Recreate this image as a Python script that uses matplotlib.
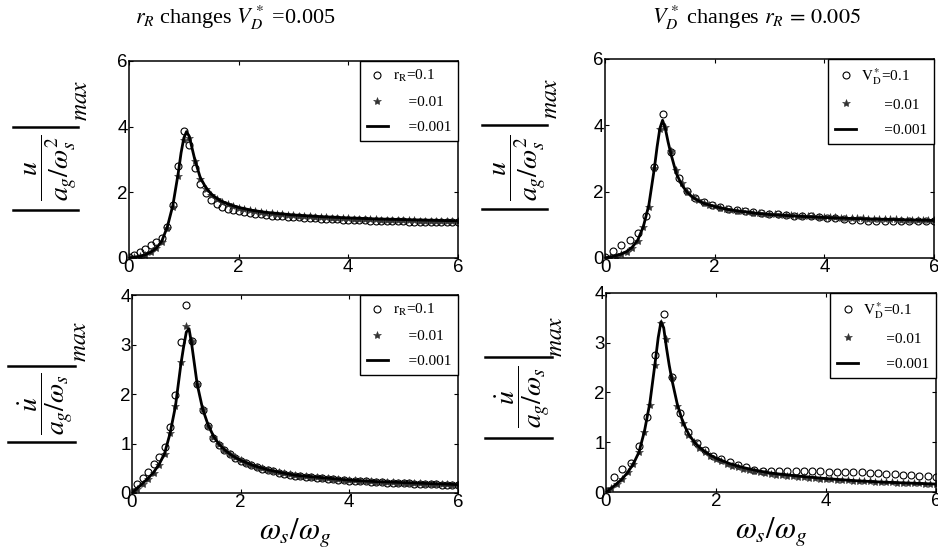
import numpy as np
import matplotlib
matplotlib.use("Agg")
import matplotlib.pyplot as plt

plt.rcParams['mathtext.fontset'] = 'stix'
plt.rcParams['font.family'] = ['Liberation Sans', 'DejaVu Sans']

# frequency ratio grids (omega_s / omega_g)
x_fine = np.round(np.arange(0, 6.001, 0.1), 2)     # 61 samples, r_R/V_D* = 0.01 and left circles
x_coarse = np.round(np.arange(0, 6.001, 0.15), 2)  # 41 samples, right-hand circles
x_line = [0, 0.1, 0.2, 0.3, 0.4, 0.5, 0.6, 0.7, 0.8, 0.9, 0.95, 1.0, 1.05, 1.1, 1.15,
          1.2, 1.3, 1.4, 1.5, 1.6, 1.7, 1.8, 1.9, 2.0, 2.25, 2.5, 2.75, 3.0, 3.5,
          4.0, 4.5, 5.0, 5.5, 6.0]

# ---- top left: |u / (a_g/w_s^2)|max, r_R changes ----
u_rR_01 = [0.02, 0.10, 0.17, 0.28, 0.38, 0.50, 0.62, 0.95, 1.62, 2.80,
           3.88, 3.45, 2.75, 2.25, 1.97, 1.78, 1.65, 1.55, 1.50, 1.45,
           1.42, 1.39, 1.37, 1.35, 1.33, 1.31, 1.29, 1.28, 1.27, 1.26,
           1.25, 1.24, 1.23, 1.22, 1.21, 1.20, 1.19, 1.18, 1.18, 1.17,
           1.16, 1.16, 1.15, 1.15, 1.14, 1.14, 1.13, 1.13, 1.12, 1.12,
           1.12, 1.11, 1.11, 1.11, 1.10, 1.10, 1.10, 1.10, 1.09, 1.09, 1.09]
u_rR_001 = [0.00, 0.02, 0.05, 0.10, 0.17, 0.30, 0.50, 0.92, 1.55, 2.50,
            3.60, 3.65, 2.95, 2.40, 2.10, 1.92, 1.80, 1.70, 1.63, 1.58,
            1.53, 1.50, 1.46, 1.43, 1.41, 1.38, 1.36, 1.35, 1.33, 1.31,
            1.30, 1.29, 1.28, 1.27, 1.26, 1.25, 1.24, 1.23, 1.22, 1.22,
            1.21, 1.20, 1.19, 1.19, 1.18, 1.18, 1.17, 1.17, 1.16, 1.16,
            1.15, 1.15, 1.15, 1.14, 1.14, 1.14, 1.13, 1.13, 1.13, 1.12, 1.12]
u_rR_0001 = [0, 0.02, 0.05, 0.10, 0.18, 0.30, 0.52, 0.95, 1.60, 2.60, 3.20, 3.65,
             3.85, 3.70, 3.35, 3.00, 2.45, 2.15, 1.95, 1.82, 1.72, 1.65, 1.59,
             1.54, 1.45, 1.39, 1.35, 1.31, 1.26, 1.22, 1.19, 1.17, 1.15, 1.13]

# ---- top right: |u / (a_g/w_s^2)|max, V_D* changes ----
u_VD_01 = [0.02, 0.20, 0.38, 0.55, 0.74, 1.28, 2.75, 4.35, 3.20, 2.40,
           2.02, 1.82, 1.68, 1.60, 1.53, 1.48, 1.44, 1.41, 1.38, 1.36,
           1.34, 1.32, 1.30, 1.28, 1.27, 1.25, 1.23, 1.21, 1.19, 1.17,
           1.15, 1.14, 1.12, 1.11, 1.10, 1.10, 1.11, 1.11, 1.12, 1.12, 1.12]
u_VD_001 = [0.00, 0.03, 0.06, 0.11, 0.18, 0.31, 0.52, 0.92, 1.55, 2.70,
            3.90, 3.95, 3.22, 2.65, 2.25, 2.00, 1.85, 1.75, 1.67, 1.61,
            1.56, 1.52, 1.48, 1.45, 1.43, 1.41, 1.39, 1.37, 1.36, 1.34,
            1.33, 1.32, 1.31, 1.30, 1.29, 1.28, 1.27, 1.26, 1.25, 1.24,
            1.23, 1.22, 1.22, 1.21, 1.20, 1.20, 1.19, 1.19, 1.18, 1.18,
            1.17, 1.17, 1.16, 1.16, 1.15, 1.15, 1.15, 1.14, 1.14, 1.13, 1.13]
u_VD_0001 = [0, 0.03, 0.07, 0.12, 0.20, 0.33, 0.55, 0.95, 1.60, 2.70, 3.35, 3.90,
             4.15, 3.90, 3.50, 3.15, 2.55, 2.20, 1.98, 1.83, 1.73, 1.65, 1.60,
             1.55, 1.46, 1.40, 1.35, 1.31, 1.26, 1.22, 1.19, 1.17, 1.15, 1.13]

# ---- bottom left: |u_dot / (a_g/w_s)|max, r_R changes ----
v_rR_01 = [0.02, 0.19, 0.30, 0.42, 0.58, 0.73, 0.92, 1.33, 1.97, 3.05,
           3.80, 3.07, 2.20, 1.68, 1.35, 1.12, 0.97, 0.86, 0.78, 0.71,
           0.65, 0.60, 0.56, 0.52, 0.49, 0.46, 0.44, 0.41, 0.39, 0.37,
           0.35, 0.34, 0.33, 0.32, 0.31, 0.30, 0.29, 0.28, 0.27, 0.26,
           0.25, 0.25, 0.24, 0.24, 0.23, 0.22, 0.22, 0.21, 0.21, 0.20,
           0.20, 0.20, 0.19, 0.19, 0.18, 0.18, 0.18, 0.17, 0.17, 0.17, 0.16]
v_rR_001 = [0.00, 0.08, 0.18, 0.28, 0.40, 0.56, 0.78, 1.22, 1.76, 2.64,
            3.37, 3.08, 2.20, 1.70, 1.36, 1.14, 0.98, 0.87, 0.79, 0.72,
            0.66, 0.61, 0.57, 0.53, 0.50, 0.47, 0.45, 0.42, 0.40, 0.38,
            0.36, 0.35, 0.34, 0.33, 0.32, 0.31, 0.30, 0.29, 0.28, 0.27,
            0.26, 0.26, 0.25, 0.25, 0.24, 0.23, 0.23, 0.22, 0.22, 0.21,
            0.21, 0.20, 0.20, 0.20, 0.19, 0.19, 0.18, 0.18, 0.18, 0.17, 0.17]
v_rR_0001 = [0, 0.10, 0.20, 0.30, 0.42, 0.58, 0.80, 1.20, 1.75, 2.60, 2.95, 3.25,
             3.32, 3.00, 2.60, 2.20, 1.70, 1.38, 1.15, 0.99, 0.88, 0.79, 0.72,
             0.66, 0.55, 0.47, 0.41, 0.36, 0.31, 0.26, 0.23, 0.21, 0.19, 0.17]

# ---- bottom right: |u_dot / (a_g/w_s)|max, V_D* changes ----
v_VD_01 = [0.02, 0.31, 0.46, 0.59, 0.92, 1.51, 2.75, 3.58, 2.32, 1.58,
           1.21, 0.99, 0.85, 0.73, 0.66, 0.60, 0.55, 0.50, 0.45, 0.43,
           0.42, 0.42, 0.42, 0.42, 0.42, 0.42, 0.42, 0.41, 0.41, 0.41,
           0.40, 0.40, 0.39, 0.38, 0.37, 0.36, 0.35, 0.34, 0.33, 0.32, 0.31]
v_VD_001 = [0.00, 0.08, 0.17, 0.27, 0.40, 0.56, 0.80, 1.20, 1.75, 2.55,
            3.39, 3.07, 2.30, 1.72, 1.38, 1.15, 1.00, 0.88, 0.80, 0.73,
            0.67, 0.62, 0.57, 0.53, 0.50, 0.47, 0.44, 0.42, 0.40, 0.38,
            0.36, 0.35, 0.34, 0.33, 0.32, 0.31, 0.30, 0.29, 0.28, 0.27,
            0.26, 0.26, 0.25, 0.24, 0.24, 0.23, 0.23, 0.22, 0.22, 0.21,
            0.21, 0.20, 0.20, 0.19, 0.19, 0.18, 0.18, 0.18, 0.17, 0.17, 0.16]
v_VD_0001 = [0, 0.08, 0.17, 0.27, 0.40, 0.57, 0.80, 1.22, 1.80, 2.65, 3.10, 3.42,
             3.30, 2.90, 2.55, 2.25, 1.75, 1.40, 1.17, 1.01, 0.90, 0.81, 0.74,
             0.68, 0.57, 0.49, 0.43, 0.38, 0.32, 0.27, 0.23, 0.20, 0.18, 0.16]

lab_rR = [r'$\mathrm{r}_\mathrm{R}$=0.1', '    =0.01', '    =0.001']
lab_VD = [r'$\mathrm{V}^*_\mathrm{D}$=0.1', '      =0.01', '      =0.001']

ylab_u = r'$\dfrac{u}{a_g/\omega_s^2}$'
ylab_v = r'$\dfrac{\dot{u}}{a_g/\omega_s}$'

fig = plt.figure(figsize=(9.38, 5.53), dpi=100)

# rect, circle x, circle y, star y, line y, labels, ymax, ylabel,
# label pos, "max" pos, abs-bar x-span and y of the two bars (axes fraction)
panels = [
    ([0.1375, 0.5335, 0.3507, 0.3562], x_fine, u_rR_01, u_rR_001, u_rR_0001, lab_rR, 6, ylab_u,
     (-0.155, 0.457), (-0.145, 0.80), (-0.353, -0.155), (0.246, 0.665)),
    ([0.645, 0.5335, 0.3507, 0.3600], x_coarse, u_VD_01, u_VD_001, u_VD_0001, lab_VD, 6, ylab_u,
     (-0.176, 0.452), (-0.164, 0.804), (-0.374, -0.176), (0.246, 0.666)),
    ([0.1407, 0.1085, 0.3475, 0.3580], x_fine, v_rR_01, v_rR_001, v_rR_0001, lab_rR, 4, ylab_v,
     (-0.175, 0.45), (-0.160, 0.768), (-0.380, -0.175), (0.258, 0.641)),
    ([0.646, 0.1103, 0.3518, 0.3600], x_coarse, v_VD_01, v_VD_001, v_VD_0001, lab_VD, 4, ylab_v,
     (-0.164, 0.477), (-0.152, 0.784), (-0.367, -0.164), (0.271, 0.678)),
]

for i, (rect, xc, yc, ys, yl, labs, ymax, ylab, lpos, mpos, bx, by) in enumerate(panels):
    ax = fig.add_axes(rect)
    ax.plot(xc, yc, 'o', mfc='none', mec='black', ms=5, mew=0.8, label=labs[0])
    ax.plot(x_fine, ys, '*', color='#333333', ms=6, mew=0.4, label=labs[1])
    ax.plot(x_line, yl, '-', color='black', lw=2, label=labs[2])
    ax.set_xlim(0, 6)
    ax.set_ylim(0, ymax)
    ax.set_xticks([0, 2, 4, 6])
    ax.set_yticks(range(0, ymax + 1, 2 if ymax == 6 else 1))
    ax.tick_params(direction='in', length=3, width=0.8, top=True, right=True,
                   labelsize=13.5, pad=1)
    for s in ax.spines.values():
        s.set_linewidth(1.1)

    # |fraction|_max label, written sideways like the y-axis label
    ax.set_ylabel(ylab, fontsize=20)
    ax.yaxis.set_label_coords(*lpos)
    for yb in by:
        ax.plot(bx, [yb, yb], color='black', lw=1.8, transform=ax.transAxes, clip_on=False)
    ax.text(mpos[0], mpos[1], r'$max$', rotation=90, ha='center', va='center',
            fontsize=17, transform=ax.transAxes)

    if i >= 2:
        ax.set_xlabel(r'$\omega_s/\omega_g$', fontsize=22, labelpad=3)
    leg = ax.legend(loc='upper right', borderaxespad=0, fancybox=False,
                    edgecolor='black', framealpha=1, handlelength=1.4,
                    handletextpad=0.3, labelspacing=0.75, borderpad=0.45,
                    prop={'family': 'Liberation Serif', 'size': 11})
    leg.get_frame().set_linewidth(1.0)

fig.text(235 / 938, 1 - 18 / 553, r'$r_R$ changes $V_D^*$ =0.005', ha='center', va='center',
         fontsize=16, family='Liberation Serif')
fig.text(757 / 938, 1 - 18 / 553, r'$V_D^*$ changes $r_R\,=\,0.005$', ha='center', va='center',
         fontsize=16, family='Liberation Serif')

fig.savefig('out.png', dpi=100)
